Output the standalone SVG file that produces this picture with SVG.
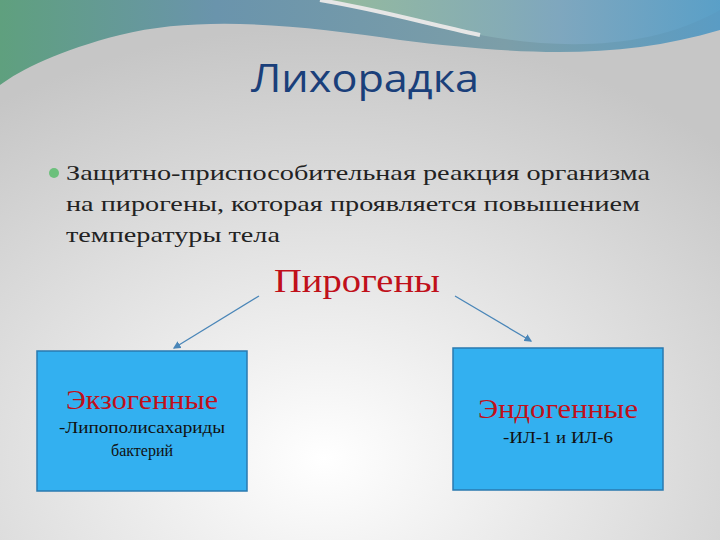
<svg xmlns="http://www.w3.org/2000/svg" width="720" height="540" viewBox="0 0 720 540">
<defs>
<radialGradient id="bg" cx="0.45" cy="0.85" r="0.8">
<stop offset="0" stop-color="#ffffff"/><stop offset="1" stop-color="#c6c6c6"/>
</radialGradient>
<linearGradient id="w1" x1="0" y1="0" x2="1" y2="0">
<stop offset="0" stop-color="#5fa07e"/><stop offset="0.3" stop-color="#6a94ac"/><stop offset="0.7" stop-color="#7c9ea8"/><stop offset="1" stop-color="#5a9cc4"/>
</linearGradient>
<linearGradient id="w2" x1="0" y1="0" x2="1" y2="0">
<stop offset="0" stop-color="#9abf9a"/><stop offset="0.6" stop-color="#80a8c0"/><stop offset="1" stop-color="#5aa0c8"/>
</linearGradient>
<marker id="ah" markerWidth="6" markerHeight="6" refX="5" refY="3" orient="auto"><path d="M0,0 L6,3 L0,6 z" fill="#4a86b8"/></marker>
<style>
.box{fill:#33b0f0;stroke:#2a7ab0;stroke-width:1.5}
.h{font-family:"Liberation Serif",serif;fill:#c0101a;text-anchor:middle}
.s{font-family:"Liberation Serif",serif;fill:#111;font-size:16px;text-anchor:middle}
.c{stroke:#4a86b8;stroke-width:1.3;fill:none;marker-end:url(#ah)}
</style>
</defs>
<rect width="720" height="540" fill="url(#bg)"/>
<path d="M0,0 H720 V30 C620,60 520,55 400,40 C300,25 200,15 120,35 C60,50 20,70 0,85 Z" fill="url(#w1)"/>
<path d="M320,0 H720 V10 C650,50 560,50 480,35 C420,22 380,10 320,0 Z" fill="url(#w2)" opacity="0.9"/>
<path d="M320,0 C380,10 420,22 480,35" stroke="#e6e6e6" stroke-width="4" fill="none"/>
<text x="365" y="92" font-family="Open Sans,sans-serif" font-size="38" fill="#1a3f7a" text-anchor="middle" textLength="228" lengthAdjust="spacingAndGlyphs">Лихорадка</text>
<circle cx="54" cy="173" r="5" fill="#6cc07c"/>
<g font-family="Liberation Serif,serif" font-size="21" fill="#222" lengthAdjust="spacingAndGlyphs">
<text x="66" y="180" textLength="584" lengthAdjust="spacingAndGlyphs">Защитно-приспособительная реакция организма</text>
<text x="66" y="211" textLength="574" lengthAdjust="spacingAndGlyphs">на пирогены, которая проявляется повышением</text>
<text x="66" y="242" textLength="214" lengthAdjust="spacingAndGlyphs">температуры тела</text>
</g>
<text class="h" x="357" y="292" font-size="34" textLength="166" lengthAdjust="spacingAndGlyphs">Пирогены</text>
<g id="connectors">
<path class="c" d="M259,296 L174,348"/>
<path class="c" d="M455,296 L531,341"/>
</g>
<g id="exo">
<rect class="box" x="37" y="351" width="210" height="140"/>
<text class="h" x="142" y="409" font-size="27" textLength="152" lengthAdjust="spacingAndGlyphs">Экзогенные</text>
<text class="s" x="142" y="433" textLength="166" lengthAdjust="spacingAndGlyphs">-Липополисахариды</text>
<text class="s" x="142" y="456">бактерий</text>
</g>
<g id="endo">
<rect class="box" x="453" y="348" width="210" height="142"/>
<text class="h" x="558" y="418" font-size="27" textLength="160" lengthAdjust="spacingAndGlyphs">Эндогенные</text>
<text class="s" x="558" y="443" textLength="110" lengthAdjust="spacingAndGlyphs">-ИЛ-1 и ИЛ-6</text>
</g>
</svg>
